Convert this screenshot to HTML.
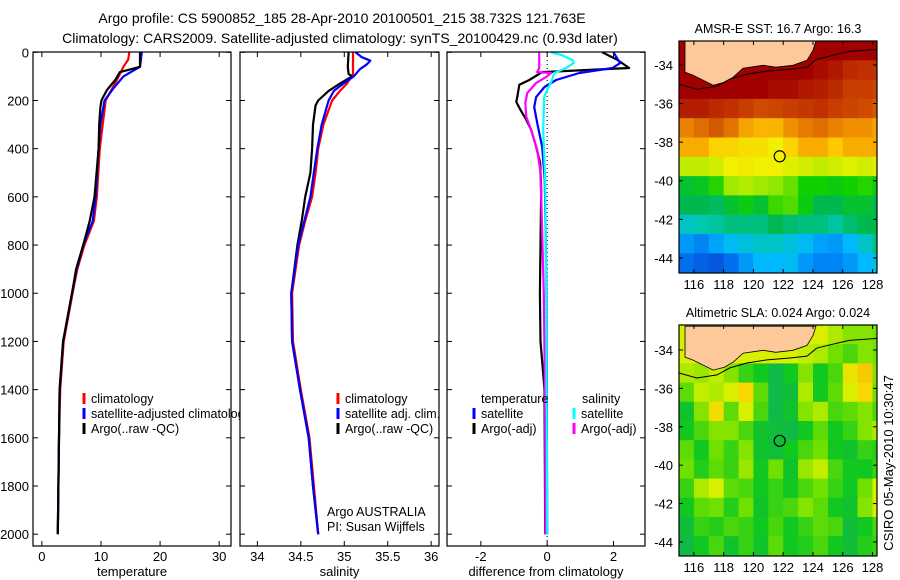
<!DOCTYPE html>
<html><head><meta charset="utf-8"><style>
html,body{margin:0;padding:0;background:#fff;}
svg{display:block;font-family:"Liberation Sans",sans-serif;}
</style></head><body>
<svg id="fig" width="900" height="580" viewBox="0 0 900 580" xmlns="http://www.w3.org/2000/svg">
<text x="342" y="23" font-size="14" text-anchor="middle">Argo profile: CS 5900852_185 28-Apr-2010 20100501_215 38.732S 121.763E</text>
<text x="340" y="43" font-size="14" text-anchor="middle">Climatology: CARS2009. Satellite-adjusted climatology: synTS_20100429.nc (0.93d later)</text>
<g id="panels"></g>
</svg>
<script>
// ---------- profile data ----------
const tDepth   = [0,30,60,82,115,157,198,227,300,400,600,700,800,900,1000,1200,1400,1600,2000];
const tArgo    = [16.6,16.6,16.6,13.2,12.4,11.0,10.1,9.9,9.7,9.6,8.9,8.1,7.0,5.8,5.1,3.6,3.0,2.9,2.7];
const tClimD   = [0,30,60,115,150,200,300,400,600,700,800,900,1000,1200,1400,1600,2000];
const tClim    = [14.8,14.6,13.8,12.7,11.9,10.8,10.3,9.8,9.3,8.8,7.2,6.0,5.2,3.7,3.1,2.9,2.7];
const tSatD    = [0,60,80,100,150,200,300,400,600,700,800,900,1000,1200,1400,1600,2000];
const tSat     = [16.9,16.6,15.2,13.8,12.1,10.6,9.9,9.6,9.1,8.6,7.0,5.9,5.1,3.6,3.0,2.9,2.7];

const sArgoD   = [0,60,90,100,130,160,200,220,300,400,500,600,700,800,1000,1200,1400,1600,1800,2000];
const sArgo    = [35.05,35.04,35.05,35.09,34.95,34.82,34.70,34.67,34.64,34.63,34.61,34.55,34.51,34.46,34.39,34.40,34.49,34.59,34.64,34.70];
const sClimD   = [0,90,130,160,200,300,400,500,600,700,800,1000,1200,1400,1600,1800,2000];
const sClim    = [35.10,35.10,35.03,34.95,34.86,34.76,34.70,34.67,34.63,34.55,34.48,34.40,34.41,34.50,34.60,34.65,34.70];
const sSatD    = [0,20,35,50,70,100,130,160,200,300,400,600,700,800,1000,1200,1400,1600,1800,2000];
const sSat     = [35.13,35.20,35.30,35.26,35.18,35.11,34.99,34.88,34.82,34.74,34.69,34.61,34.54,34.47,34.39,34.40,34.49,34.59,34.64,34.70];

const dTArgoD  = [0,30,65,82,115,135,185,206,240,280,322,393,460,570,1000,1200,1400,2000];
const dTArgo   = [1.66,2.1,2.47,-0.15,-0.54,-0.84,-0.9,-0.93,-0.8,-0.63,-0.48,-0.33,-0.21,-0.18,-0.22,-0.2,-0.08,-0.06];
const dTSatD   = [0,45,65,86,115,144,185,227,293,393,530,1000,2000];
const dTSat    = [2.0,2.2,1.97,0.97,0.27,-0.08,-0.33,-0.39,-0.3,-0.15,-0.07,-0.02,0.0];
const dSSatD   = [0,12,32,45,65,86,115,156,185,322,530,1000,2000];
const dSSat    = [0.12,0.45,0.76,0.8,0.57,0.21,0.15,0,-0.09,-0.12,-0.06,-0.03,0.0];
const dSArgoD  = [0,65,82,86,102,127,169,210,268,322,405,488,600,1000,1500,2000];
const dSArgo   = [-0.24,-0.24,-0.3,0.12,-0.03,-0.33,-0.6,-0.66,-0.63,-0.48,-0.3,-0.21,-0.18,-0.1,-0.06,-0.05];

const depthTicks = [0,200,400,600,800,1000,1200,1400,1600,1800,2000];
const tTicks = [0,10,20,30];
const sTicks = [34,34.5,35,35.5,36];
const dTicks = [-2,0,2];

// ---------- map data (1 degree cells, north to south, lon 115..128) ----------
const sstRows = [
[20,20,20,20,20,20,20,20,20,20,20,20,20,20],
[20,20,20,20,20,20,20,20,20,19.8,19.6,19.3,19.2,19.2],
[20,20,20,20,20,20,19.8,19.8,19.6,19.5,19.3,19.0,19.0,18.9],
[19.5,19.5,19.3,19.2,19.0,18.8,18.9,19.0,19.1,19.2,19.0,18.9,18.8,18.6],
[18.0,18.3,18.6,18.2,17.6,17.4,17.4,17.8,18.1,18.3,18.0,17.8,17.8,17.6],
[17.5,17.5,17.0,17.0,16.8,16.8,16.5,17.0,17.5,17.5,17.2,17.5,17.5,17.5],
[16.2,16.2,16.3,16.5,16.6,16.5,16.5,16.4,16.3,16.2,16.3,16.4,16.3,16.4],
[15.0,15.1,15.4,16.0,16.1,16.0,15.9,15.7,15.3,15.3,15.2,15.3,15.4,15.2],
[14.8,14.8,14.7,15.0,15.2,15.0,15.5,15.6,15.2,14.8,14.8,15.0,15.0,14.8],
[14.0,14.2,14.3,14.5,14.5,14.5,14.8,14.6,14.5,14.5,14.3,14.6,14.8,14.8],
[13.2,13.0,13.3,13.6,13.8,14.0,14.0,13.8,13.6,13.3,13.2,13.5,14.0,14.5],
[12.8,12.6,12.5,12.8,13.2,13.5,13.5,13.6,13.2,13.0,13.0,13.2,13.5,13.8]];
const slaRows = [
[1,1,1,1,1,1,1,1,1,1,0.8,0.6,0.6,0.5],
[1,1,1,1,1,1,1,1,0.9,0.8,0.5,0.3,0.6,0.5],
[0.8,0.7,0.9,0.6,0.2,0,-0.3,0,0.6,0,0.3,1.2,1.5,0.6],
[0.4,0.9,0.8,1.0,1.4,0.4,-0.3,-0.2,0.8,0,0.4,1.0,1.4,0.5],
[-0.1,0.6,1.3,0.4,1.0,0.3,-0.3,-0.1,0.6,0.8,0.3,0.4,0.6,0.3],
[0,0.3,0.6,0.6,0.3,-0.1,-0.2,-0.3,0,0.4,0,0.2,0.6,0.8],
[0.4,0,0.5,0.2,0.6,-0.1,-0.2,0,0.3,0.5,0,-0.1,0.2,0.1],
[0.5,0.1,0.4,0.2,0.7,0,0.5,-0.1,0.7,0.9,0.3,0,0,0.2],
[0.2,0.8,1.0,0.4,0.3,0,0.2,0,0.3,0.5,0.2,0,0.5,1.0],
[0,0.4,0.5,0.1,0.5,-0.1,0.2,0.3,0.6,0.4,0,-0.1,0.6,1.1],
[-0.2,0.2,0.1,0.3,0.2,0,0.3,0,0.2,0.4,0.3,-0.2,0,0.3],
[-0.3,0,0.3,-0.1,0.2,-0.1,0.4,0,0.1,0.3,0,-0.2,0.1,0.2]];
const lonTicks = [116,118,120,122,124,126,128];
const latTicks = [-34,-36,-38,-40,-42,-44];
const argoLon = 121.763, argoLat = -38.732;
// coast / contour outlines as lon,lat pairs
const land1Lon = [115.4,115.4,115.95,117.3,118.05,118.65,119.3,120.65,121.5,122.65,123.6,124.0,124.2];
const land1Lat = [-32.76,-34.37,-34.53,-35.05,-34.9,-34.63,-34.17,-34.02,-34.12,-34.02,-33.76,-33.24,-32.76];
const cont1Lon = [115.0,116.2,117.55,118.4,119.55,120.9,122.45,123.6,124.25,125.6,126.45,128.3];
const cont1Lat = [-35.0,-35.26,-35.1,-34.74,-34.48,-34.32,-34.22,-34.12,-33.71,-33.45,-33.3,-33.2];

const NS='http://www.w3.org/2000/svg';
const root=document.getElementById('panels');
function el(tag,attrs,parent){const e=document.createElementNS(NS,tag);for(const k in attrs)e.setAttribute(k,attrs[k]);(parent||root).appendChild(e);return e;}
function lin(d0,d1,r0,r1){return v=>r0+(v-d0)*(r1-r0)/(d1-d0);}
const yD = lin(0,2049,52.3,546);

function txt(x,y,s,size,anchor,name,parent){const t=el('text',{x:x,y:y,'font-size':size,'text-anchor':anchor||'start'},parent);t.textContent=s;return t;}

function profilePanel(name,x0,x1,xs,ticks,labelFmt,xlabel,showY){
  const g=el('g',{});
  
  
  const bg=el('rect',{x:x0,y:52,width:x1-x0,height:494,fill:'#fff'},g);
  
  
  depthTicks.forEach(d=>{
    const y=yD(d);
    el('line',{x1:x0,x2:x0+5,y1:y,y2:y,stroke:'#000'},g);
    el('line',{x1:x1-5,x2:x1,y1:y,y2:y,stroke:'#000'},g);
    if(showY) txt(x0-4,y+5,String(d),13,'end','y-tick-label',g);
  });
  ticks.forEach(v=>{
    const x=xs(v);
    el('line',{x1:x,x2:x,y1:546,y2:541,stroke:'#000'},g);
    el('line',{x1:x,x2:x,y1:52,y2:57,stroke:'#000'},g);
    txt(x,561,labelFmt(v),13,'middle','x-tick-label',g);
  });
  txt((x0+x1)/2,576,xlabel,13,'middle','x-axis-title',g);
  return g;
}
function series(g,xs,vals,depths,color,name){
  const pts=vals.map((v,i)=>xs(v).toFixed(1)+','+yD(depths[i]).toFixed(1)).join(' ');
  const p=el('polyline',{points:pts,fill:'none',stroke:color,'stroke-width':2.2,'stroke-linejoin':'round'},g);
  
  
}
function frame(g,x0,y0,x1,y1){
  const r=el('rect',{x:x0,y:y0,width:x1-x0,height:y1-y0,fill:'none',stroke:'#000','stroke-width':1.2},g);
  
  
}
function legend(g,x,y,color,label){
  const b=el('line',{x1:x,x2:x,y1:y-10,y2:y+1,stroke:color,'stroke-width':3},g);
  
  
  txt(x+7,y,label,12.5,'start','legend-entry',g);
}

// temperature
const xT=lin(-1.5,32,33,231);
const gT=profilePanel('temperature-panel',33,231,xT,tTicks,v=>String(v),'temperature',true);
series(gT,xT,tClim,tClimD,'#f00','temperature-climatology-line');
series(gT,xT,tSat,tSatD,'#00f','temperature-satellite-line');
series(gT,xT,tArgo,tDepth,'#000','temperature-argo-line');
legend(gT,84,403,'#f00','climatology');
legend(gT,84,418,'#00f','satellite-adjusted climatology');
legend(gT,84,433,'#000','Argo(..raw -QC)');
frame(gT,33,52,231,546);

// salinity
const xS=lin(33.8,36.09,240,439);
const gS=profilePanel('salinity-panel',240,439,xS,sTicks,v=>String(v),'salinity',false);
series(gS,xS,sClim,sClimD,'#f00','salinity-climatology-line');
series(gS,xS,sArgo,sArgoD,'#000','salinity-argo-line');
series(gS,xS,sSat,sSatD,'#00f','salinity-satellite-line');
legend(gS,338,403,'#f00','climatology');
legend(gS,338,418,'#00f','satellite adj. clim.');
legend(gS,338,433,'#000','Argo(..raw -QC)');
txt(327,516,'Argo AUSTRALIA',12.5,'start','institution-label',gS);
txt(327,531,'PI: Susan Wijffels',12.5,'start','pi-label',gS);
frame(gS,240,52,439,546);

// difference
const xDf=lin(-3.02,2.95,447,645);
const gDf=profilePanel('difference-panel',447,645,xDf,dTicks,v=>String(v),'difference from climatology',false);
const z=el('line',{x1:xDf(0),x2:xDf(0),y1:52,y2:546,stroke:'#000','stroke-dasharray':'1,3'},gDf);


series(gDf,xDf,dTArgo,dTArgoD,'#000','temp-argo-diff-line');
series(gDf,xDf,dSArgo,dSArgoD,'#f0f','sal-argo-diff-line');
series(gDf,xDf,dTSat,dTSatD,'#00f','temp-satellite-diff-line');
series(gDf,xDf,dSSat,dSSatD,'#0ff','sal-satellite-diff-line');
txt(481,403,'temperature',12.5,'start','legend-heading-temperature',gDf);
legend(gDf,474,418,'#00f','satellite');
legend(gDf,474,433,'#000','Argo(-adj)');
txt(582,403,'salinity',12.5,'start','legend-heading-salinity',gDf);
legend(gDf,574,418,'#0ff','satellite');
legend(gDf,574,433,'#f0f','Argo(-adj)');
frame(gDf,447,52,645,546);

// ---------- maps ----------
function hex(c){return [parseInt(c.substr(1,2),16),parseInt(c.substr(3,2),16),parseInt(c.substr(5,2),16)];}
function palette(stops){return v=>{
  if(v<=stops[0][0])return stops[0][1];
  for(let i=1;i<stops.length;i++){if(v<=stops[i][0]){const a=hex(stops[i-1][1]),b=hex(stops[i][1]);const t=(v-stops[i-1][0])/(stops[i][0]-stops[i-1][0]);return 'rgb('+a.map((x,k)=>Math.round(x+(b[k]-x)*t)).join(',')+')';}}
  return stops[stops.length-1][1];};}
const sstCol=palette([[12,'#1030c0'],[12.8,'#0070f0'],[13.5,'#00b8ff'],[14.2,'#00c8b0'],[14.8,'#00b850'],[15.3,'#10d000'],[15.9,'#90e800'],[16.5,'#f0f000'],[17.2,'#ffc800'],[17.8,'#f09000'],[18.5,'#d86000'],[19.2,'#c03000'],[20,'#a00000']]);
const slaCol=palette([[-0.5,'#10b060'],[0,'#10c820'],[0.5,'#70e000'],[1.0,'#d8f000'],[1.4,'#f8d800'],[1.8,'#f0a000']]);

function mapPanel(name,title,rows,col,y0,y1,latTop,latBot,landLat,contLat){
  const xs=lin(115.0,128.3,679,877), ys=lin(latTop,latBot,y0,y1);
  const g=el('g',{});
  
  
  const cp=el('clipPath',{id:name+'-clip'},g);
  el('rect',{x:679,y:y0,width:198,height:y1-y0},cp);
  const cells=el('g',{'clip-path':'url(#'+name+'-clip)'},g);
  rows.forEach((row,i)=>row.forEach((v,j)=>{
    const la=latTop-i, lo=115+j;
    const r=el('rect',{x:xs(lo).toFixed(1),y:ys(la).toFixed(1),width:(xs(lo+1)-xs(lo)+0.6).toFixed(1),height:(ys(la-1)-ys(la)+0.6).toFixed(1),fill:col(v)},cells);
    
    
  }));
  const land=el('polygon',{points:land1Lon.map((lo,i)=>xs(lo).toFixed(1)+','+ys(landLat[i]).toFixed(1)).join(' '),fill:'#fdc89a',stroke:'#000','stroke-width':0.8},cells);
  
  
  const ct=el('polyline',{points:cont1Lon.map((lo,i)=>xs(lo).toFixed(1)+','+ys(contLat[i]).toFixed(1)).join(' '),fill:'none',stroke:'#000','stroke-width':1},cells);
  
  
  const c=el('circle',{cx:xs(argoLon),cy:ys(argoLat),r:5.5,fill:'none',stroke:'#000','stroke-width':1.2},g);
  
  
  lonTicks.forEach(v=>{const x=xs(v);
    el('line',{x1:x,x2:x,y1:y1,y2:y1-4,stroke:'#000'},g);el('line',{x1:x,x2:x,y1:y0,y2:y0+4,stroke:'#000'},g);
    txt(x,y1+16,String(v),13,'middle','lon-tick-label',g);});
  latTicks.forEach(v=>{const y=ys(v);
    el('line',{x1:679,x2:683,y1:y,y2:y,stroke:'#000'},g);el('line',{x1:873,x2:877,y1:y,y2:y,stroke:'#000'},g);
    txt(673,y+5,String(v),13,'end','lat-tick-label',g);});
  txt(778,y0-8,title,12.5,'middle','map-title',g);
  frame(g,679,y0,877,y1);
}
mapPanel('sst-map','AMSR-E SST: 16.7 Argo: 16.3',sstRows,sstCol,41,273,-32.76,-44.78,land1Lat,cont1Lat);
const cont2Lat=cont1Lat.map(v=>v-0.2);
mapPanel('sla-map','Altimetric SLA: 0.024 Argo: 0.024',slaRows,slaCol,325,556,-32.7,-44.73,land1Lat,cont2Lat);

const cs=txt(0,0,'CSIRO 05-May-2010 10:30:47',13,'middle','timestamp-label');
cs.setAttribute('transform','translate(893,463) rotate(-90)');
</script>
</body></html>
